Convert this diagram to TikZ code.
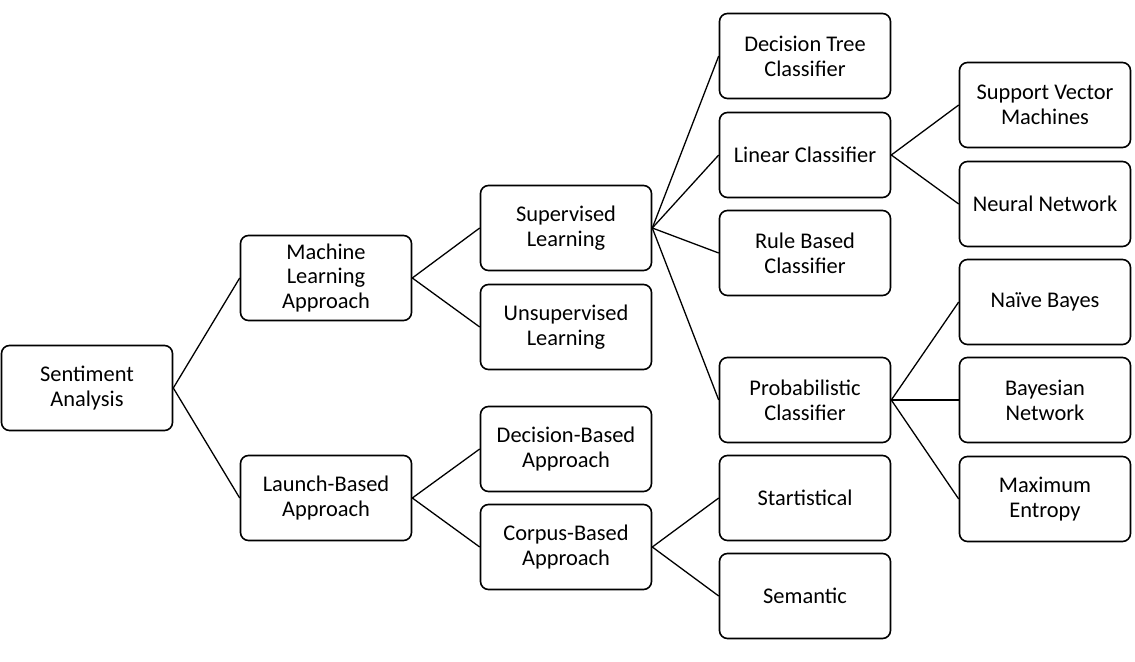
\documentclass[tikz,border=0pt]{standalone}
\usepackage{fontspec}
\setmainfont{Carlito}
\begin{document}
\begin{tikzpicture}[x=1bp,y=-1bp]
\tikzstyle{box}=[draw,line width=1.6bp,rounded corners=8bp,minimum width=171bp,minimum height=85bp,align=center,inner sep=0pt,font=\fontsize{22.5}{25}\selectfont]
\tikzstyle{edge}=[line width=1.3bp]
\useasboundingbox (0,0) rectangle (1135,662);
\path (87,388) node[box](sa){Sentiment\\Analysis}
      (326,278) node[box](ml){Machine\\Learning\\Approach}
      (326,498) node[box](lb){Launch-Based\\Approach};
\path (566,228) node[box](sl){Supervised\\Learning}
      (566,327) node[box](ul){Unsupervised\\Learning}
      (566,449) node[box](db){Decision-Based\\Approach}
      (566,547) node[box](cb){Corpus-Based\\Approach};
\path (805,56) node[box](dt){Decision Tree\\Classifier}
      (805,155) node[box](lc){Linear Classifier}
      (805,253) node[box](rb){Rule Based\\Classifier}
      (805,400) node[box](pc){Probabilistic\\Classifier}
      (805,498) node[box](st){Startistical}
      (805,596) node[box](se){Semantic};
\path (1045,105) node[box](sv){Support Vector\\Machines}
      (1045,204) node[box](nn){Neural Network}
      (1045,302) node[box](nb){Naïve Bayes}
      (1045,400) node[box](bn){Bayesian\\Network}
      (1045,499) node[box](me){Maximum\\Entropy};
\draw[edge] (sa.east) -- (ml.west);
\draw[edge] (sa.east) -- (lb.west);
\draw[edge] (ml.east) -- (sl.west);
\draw[edge] (ml.east) -- (ul.west);
\draw[edge] (lb.east) -- (db.west);
\draw[edge] (lb.east) -- (cb.west);
\draw[edge] (sl.east) -- (dt.west);
\draw[edge] (sl.east) -- (lc.west);
\draw[edge] (sl.east) -- (rb.west);
\draw[edge] (sl.east) -- (pc.west);
\draw[edge] (cb.east) -- (st.west);
\draw[edge] (cb.east) -- (se.west);
\draw[edge] (lc.east) -- (sv.west);
\draw[edge] (lc.east) -- (nn.west);
\draw[edge] (pc.east) -- (nb.west);
\draw[edge] (pc.east) -- (bn.west);
\draw[edge] (pc.east) -- (me.west);
\end{tikzpicture}
\end{document}
